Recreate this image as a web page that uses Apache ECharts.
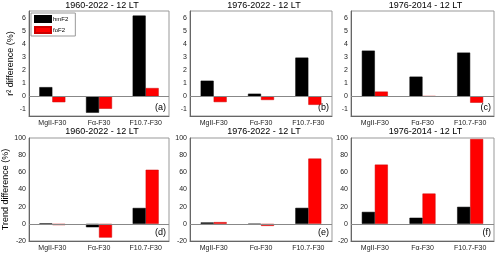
<!DOCTYPE html>
<html><head><meta charset="utf-8">
<script src="https://cdn.jsdelivr.net/npm/echarts@6/dist/echarts.min.js"></script>
<style>html,body{margin:0;padding:0;background:#fff}#c{width:500px;height:253px}</style>
</head><body><div id="c"></div>
<script>
const categories = ['MgII-F30', 'Fα-F30', 'F10.7-F30'];
const panelTitles = ['1960-2022 - 12 LT', '1976-2022 - 12 LT', '1976-2014 - 12 LT',
                     '1960-2022 - 12 LT', '1976-2022 - 12 LT', '1976-2014 - 12 LT'];
const panelTags = ['(a)', '(b)', '(c)', '(d)', '(e)', '(f)'];
const seriesNames = ['hmF2', 'foF2'];
// r2 difference (%)
const r2_hmF2_a = [0.7, -1.25, 6.15];
const r2_foF2_a = [-0.45, -0.95, 0.63];
const r2_hmF2_b = [1.19, 0.2, 2.95];
const r2_foF2_b = [-0.44, -0.28, -0.65];
const r2_hmF2_c = [3.48, 1.5, 3.33];
const r2_foF2_c = [0.36, 0.0, -0.49];
// Trend difference (%)
const tr_hmF2_d = [0.3, -4, 18.5];
const tr_foF2_d = [-1.5, -16, 63];
const tr_hmF2_e = [1.6, -0.5, 18.6];
const tr_foF2_e = [2.0, -2.4, 76];
const tr_hmF2_f = [13.9, 7.1, 19.8];
const tr_foF2_f = [69, 35.3, 98.8];
const topTicks = [-1, 0, 1, 2, 3, 4, 5, 6];
const bottomTicks = [-20, 0, 20, 40, 60, 80, 100];

const panels = [
  [r2_hmF2_a, r2_foF2_a], [r2_hmF2_b, r2_foF2_b], [r2_hmF2_c, r2_foF2_c],
  [tr_hmF2_d, tr_foF2_d], [tr_hmF2_e, tr_foF2_e], [tr_hmF2_f, tr_foF2_f]
];

const lefts = [29, 190, 351];
const widths = [140, 142, 143];
const FONT = 'Liberation Sans';
const grids = [], xAxes = [], yAxes = [], series = [], titles = [], graphics = [];
for (let i = 0; i < 6; i++) {
  const row = Math.floor(i / 3), col = i % 3;
  const top = row === 0 ? 11 : 138;
  const height = row === 0 ? 105 : 103;
  grids.push({left: lefts[col], width: widths[col], top: top, height: height,
    show: true, borderColor: '#999', borderWidth: 1, containLabel: false});
  titles.push({text: panelTitles[i], left: lefts[col] + widths[col] / 2 + 3, top: row === 0 ? 1 : 127,
    textAlign: 'center', padding: 0,
    textStyle: {fontFamily: FONT, fontSize: 9, fontWeight: 'normal', color: '#000'}});
  xAxes.push({type: 'category', gridIndex: i, data: categories,
    axisLine: {show: true, onZero: false, lineStyle: {color: '#666', width: 1}},
    axisTick: {show: false},
    axisLabel: {fontFamily: FONT, fontSize: 7, color: '#222', margin: 4}});
  const ticks = row === 0 ? topTicks : bottomTicks;
  const yCfg = row === 0
    ? {min: -1.5, max: 6.5, interval: 0.5}
    : {min: -20, max: 100, interval: 20};
  yAxes.push(Object.assign({type: 'value', gridIndex: i,
    axisLine: {show: true, lineStyle: {color: '#666', width: 1}},
    axisTick: {show: false},
    splitLine: {show: false},
    axisLabel: {fontFamily: FONT, fontSize: 7, color: '#222', margin: 3,
      formatter: v => (ticks.indexOf(Math.round(v * 1000) / 1000) >= 0 ? String(v) : '')},
    name: col === 0 ? (row === 0 ? 'r² difference (%)' : 'Trend difference (%)') : '',
    nameLocation: 'middle', nameGap: row === 0 ? 14 : 18,
    nameTextStyle: {fontFamily: FONT, fontSize: 9, color: '#000'}
  }, yCfg));
  const cols = ['#000000', '#ff0000'];
  for (let s = 0; s < 2; s++) {
    const ser = {type: 'bar', name: seriesNames[s], xAxisIndex: i, yAxisIndex: i,
      data: panels[i][s], barWidth: 13, barGap: '0%',
      itemStyle: {color: cols[s], borderColor: s === 0 ? '#000' : '#c00', borderWidth: 0.5},
      silent: true, animation: false};
    if (s === 0) {
      ser.markLine = {silent: true, symbol: 'none', label: {show: false},
        lineStyle: {color: '#888', width: 1, type: 'solid'}, animation: false,
        data: [{yAxis: 0}]};
      ser.z = 3;
    }
    series.push(ser);
  }
  graphics.push({type: 'text', right: 500 - (lefts[col] + widths[col]) + 3,
    top: top + height - 13,
    style: {text: panelTags[i], font: '9px "Liberation Sans"', fill: '#000'}});
}

const chart = echarts.init(document.getElementById('c'), null, {renderer: 'canvas'});
chart.setOption({
  animation: false,
  title: titles,
  grid: grids, xAxis: xAxes, yAxis: yAxes, series: series,
  legend: {data: seriesNames, left: 31, top: 13, orient: 'vertical',
    itemWidth: 16, itemHeight: 6, itemGap: 3, padding: [2, 7, 2, 3],
    borderColor: '#999', borderWidth: 1, backgroundColor: '#fff',
    icon: 'rect',
    textStyle: {fontFamily: FONT, fontSize: 6, color: '#000', padding: [0, 0, 0, -3]}},
  graphic: graphics
});
</script></body></html>
